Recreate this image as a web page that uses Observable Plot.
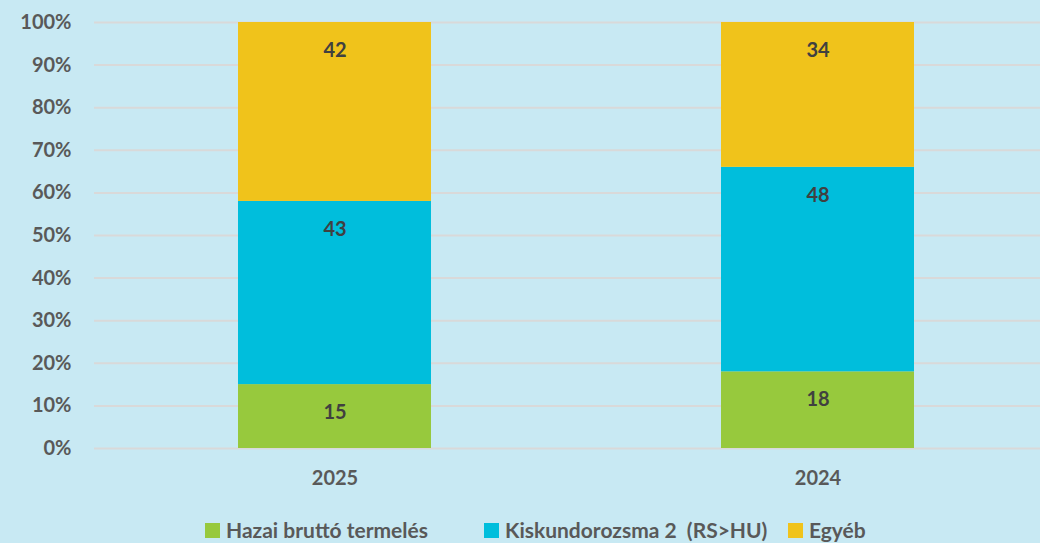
<!DOCTYPE html>
<html>
<head>
<meta charset="utf-8">
<script src="https://cdn.jsdelivr.net/npm/d3@7"></script>
<script src="https://cdn.jsdelivr.net/npm/@observablehq/plot@0.6"></script>
<style>
  html, body { margin: 0; padding: 0; background: #c8e9f3; }
  body { width: 1040px; height: 543px; overflow: hidden; font-family: Lato, "Open Sans", sans-serif; }
  #chart { position: relative; width: 1040px; height: 543px; }
  .legend { position: absolute; top: 518px; left: 0; width: 1040px; height: 24px; font-weight: bold; font-size: 21px; line-height: 24px; color: #595959; }
  .legend span.item { position: absolute; top: 0; white-space: nowrap; display: flex; align-items: center; }
  .legend .sw { display: inline-block; width: 15px; height: 15px; margin-right: 6px; }
</style>
</head>
<body>
<div id="chart"></div>
<script>
const years = ["2025", "2024"];
const series = ["Hazai bruttó termelés", "Kiskundorozsma 2  (RS>HU)", "Egyéb"];
const colors = ["#97c93d", "#00bedc", "#f0c31b"];
const values2025 = [15, 43, 42];
const values2024 = [18, 48, 34];
const yTicks = [0, 0.1, 0.2, 0.3, 0.4, 0.5, 0.6, 0.7, 0.8, 0.9, 1];
const legendLeft = [205, 484, 788];

const valuesByYear = {"2025": values2025, "2024": values2024};
const data = [];
for (const y of years) {
  series.forEach((s, i) => data.push({year: y, series: s, value: valuesByYear[y][i]}));
}

const stackOpts = {x: "year", y: "value", z: "series", offset: "normalize", order: series};

const plot = Plot.plot({
  width: 1040,
  height: 505,
  marginLeft: 94,
  marginRight: 0,
  marginTop: 22,
  marginBottom: 57,
  style: {background: "transparent", fontFamily: "Lato, 'Open Sans', sans-serif", fontSize: "20px", fontWeight: "bold", color: "#595959"},
  x: {domain: years, range: [93.5, 1059.5], paddingInner: 0.6, paddingOuter: 0.3, label: null, tickSize: 0, tickPadding: 22},
  y: {domain: [0, 1], ticks: yTicks, tickFormat: d => Math.round(d * 100) + "%", label: null, tickSize: 0, tickPadding: 23},
  color: {domain: series, range: colors},
  marks: [
    Plot.ruleY(yTicks, {stroke: "#d9d9d9", strokeWidth: 2}),
    Plot.barY(data, Plot.stackY({...stackOpts, fill: "series"})),
    Plot.text(data, Plot.stackY2({...stackOpts, text: d => String(d.value), dy: 28, fill: "#404040", fontSize: 20, fontWeight: "bold"}))
  ]
});
document.getElementById("chart").appendChild(plot);

const legend = document.createElement("div");
legend.className = "legend";
series.forEach((s, i) => {
  const item = document.createElement("span");
  item.className = "item";
  item.style.left = legendLeft[i] + "px";
  const sw = document.createElement("span");
  sw.className = "sw";
  sw.style.background = colors[i];
  item.appendChild(sw);
  item.appendChild(document.createTextNode(s.replace(/  /g, "\u00a0 ")));
  legend.appendChild(item);
});
document.getElementById("chart").appendChild(legend);
</script>
</body>
</html>
